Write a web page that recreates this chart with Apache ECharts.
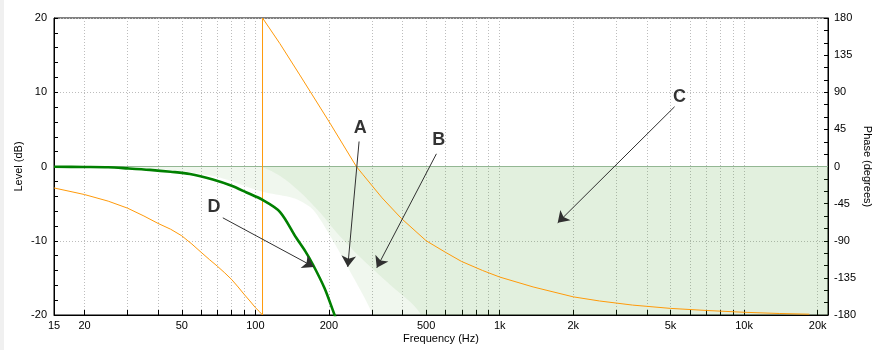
<!DOCTYPE html>
<html><head><meta charset="utf-8">
<script src="https://cdn.jsdelivr.net/npm/echarts@6/dist/echarts.min.js"></script>
<style>html,body{margin:0;padding:0;background:#fff}#c{width:877px;height:350px}</style>
</head><body><div id="c"></div>
<script>
// ---- data ----
const freqLabels = [15, 20, 50, 100, 200, 500, 1000, 2000, 5000, 10000, 20000];
const gridFreqs = [20, 30, 40, 50, 60, 70, 80, 90, 100, 200, 300, 400, 500, 600, 700, 800, 900,
  1000, 2000, 3000, 4000, 5000, 6000, 7000, 8000, 9000, 10000, 20000];
const freqMin = 15, freqMax = 22050;
// green response D (dB)
const levelD = [[15, -0.03], [20, -0.06], [25, -0.1], [30, -0.25], [37, -0.45], [45, -0.7], [54, -1.0],
  [67, -1.75], [80, -2.6], [92, -3.5], [107, -4.5], [126, -6.1], [147, -9.6], [160, -11.4], [172, -13.2],
  [192, -16.4], [211, -20], [220, -21.5]];
// phase (degrees), wraps at ~107 Hz
const phase = [[15, -26], [20, -34], [25, -42], [30, -50.5], [35, -60], [40, -69], [45, -76], [50, -84],
  [55, -94], [60, -104], [65, -113], [70, -121], [75, -129], [80, -137], [85, -146], [90, -155], [95, -163],
  [100, -171], [104, -176], [107, -180], [107, 180], [126, 149], [152, 111], [202, 52.6], [259, 0], [276, -10],
  [330, -38], [396, -63], [500, -90], [600, -104], [697, -115], [850, -126], [1000, -134], [1370, -146],
  [2000, -158], [2560, -163], [3500, -168], [5000, -172], [7000, -174.5], [10000, -176.7], [14000, -178.2],
  [18500, -179]];
// shaded region boundaries (dB), filled up to 0 dB
const fillA = [[15, 0], [23, -0.1], [37, -0.3], [49, -0.6], [72, -1.5], [107, -3.4], [138, -4.1], [152, -4.6],
  [172, -5.8], [202, -9.3], [243, -14], [300, -19.7], [340, -25], [22050, -25]];
const fillB = [[15, 0], [100, 0], [107, -0.1], [126, -1.25], [152, -3.4], [184, -6.2], [215, -8.9],
  [268, -12.2], [355, -15.9], [471, -19.7], [530, -25], [22050, -25]];
const zeroLine = [[15, 0], [22050, 0]];
// annotations: label text anchor, arrow start, arrow tip ([Hz, dB])
const annLabels = ['A', 'B', 'C', 'D'];
const annText = [[268.8, 5.15], [563, 3.6], [5445, 9.4], [67.7, -5.43]];
const annFrom = [[265.8, 3.37], [550.8, 1.71], [5196, 8.05], [73.6, -6.91]];
const annTo = [[238.9, -13.52], [314, -13.65], [1727, -7.59], [173.5, -13.52]];

// ---- chart ----
const lx = f => Math.log10(f);
const toXY = arr => arr.map(p => [lx(p[0]), p[1]]);
const FONT = '"Liberation Sans", Arial, sans-serif';
const fmt = v => { const f = Math.round(Math.pow(10, v)); return f >= 1000 ? (f / 1000) + 'k' : String(f); };
const chart = echarts.init(document.getElementById('c'), null, { renderer: 'canvas' });
const fillStyle = 'rgba(60,150,40,0.11)';
const option = {
  animation: false,
  graphic: [{ type: 'rect', left: 0, top: 0, shape: { width: 4, height: 350 }, style: { fill: '#f0f0f0' }, silent: true }],
  grid: { left: 54, right: 49, top: 18, bottom: 35, show: true, borderColor: '#000', borderWidth: 1,
    backgroundColor: 'transparent', containLabel: false, outerBoundsMode: 'none' },
  xAxis: {
    type: 'value', min: lx(freqMin), max: lx(freqMax),
    name: 'Frequency (Hz)', nameLocation: 'middle', nameGap: 18, nameMoveOverlap: false,
    nameTextStyle: { color: '#000', fontFamily: FONT, fontSize: 11 },
    axisLine: { onZero: false, lineStyle: { color: '#000', width: 1 } },
    axisTick: { inside: true, length: 5, customValues: gridFreqs.map(lx), lineStyle: { color: '#000' } },
    axisLabel: { customValues: freqLabels.map(lx), formatter: fmt, color: '#000', fontFamily: FONT, fontSize: 11, margin: 5 },
    splitLine: { show: true, lineStyle: { color: '#bdbdbd', type: [1, 2] } }
  },
  yAxis: [{
    type: 'value', min: -20, max: 20, interval: 10,
    name: 'Level (dB)', nameLocation: 'middle', nameRotate: 90, nameGap: 30, nameMoveOverlap: false,
    nameTextStyle: { color: '#000', fontFamily: FONT, fontSize: 11 },
    axisLine: { show: true, onZero: false, lineStyle: { color: '#000' } },
    axisTick: { show: true, inside: true, length: 4, lineStyle: { color: '#000' } },
    minorTick: { show: true, splitNumber: 5, length: 4, lineStyle: { color: '#000' } },
    axisLabel: { color: '#000', fontFamily: FONT, fontSize: 11, margin: 7 },
    splitLine: { show: true, lineStyle: { color: '#bdbdbd', type: [1, 2] } }
  }, {
    type: 'value', min: -180, max: 180, interval: 45, position: 'right',
    name: 'Phase (degrees)', nameLocation: 'middle', nameRotate: -90, nameGap: 34, nameMoveOverlap: false,
    nameTextStyle: { color: '#000', fontFamily: FONT, fontSize: 11 },
    axisLine: { show: true, onZero: false, lineStyle: { color: '#000' } },
    axisTick: { show: true, inside: true, length: 4, lineStyle: { color: '#000' } },
    minorTick: { show: true, splitNumber: 3, length: 4, lineStyle: { color: '#000' } },
    axisLabel: { color: '#000', fontFamily: FONT, fontSize: 11, margin: 6 },
    splitLine: { show: false }
  }],
  series: [
    { type: 'line', data: toXY(fillA), yAxisIndex: 0, symbol: 'none', silent: true, z: 1, smooth: 0.3,
      lineStyle: { width: 0, opacity: 0 }, areaStyle: { color: fillStyle, origin: 0 } },
    { type: 'line', data: toXY(fillB), yAxisIndex: 0, symbol: 'none', silent: true, z: 1, smooth: 0.3,
      lineStyle: { width: 0, opacity: 0 }, areaStyle: { color: fillStyle, origin: 0 } },
    { type: 'line', data: toXY(zeroLine), yAxisIndex: 0, symbol: 'none', silent: true, z: 2,
      lineStyle: { width: 1, color: '#93b793' } },
    { type: 'line', data: toXY(phase), yAxisIndex: 1, symbol: 'none', silent: true, z: 3,
      lineStyle: { width: 1, color: '#ff9a0a' } },
    { type: 'line', data: toXY(levelD), yAxisIndex: 0, symbol: 'none', silent: true, z: 4, smooth: 0.3,
      lineStyle: { width: 2.6, color: '#008000' } },
    { type: 'line', data: [], yAxisIndex: 0, silent: true, z: 5,
      markLine: {
        silent: true, animation: false, symbol: ['none', 'arrow'], symbolSize: 11,
        label: { show: false },
        lineStyle: { color: '#303030', width: 1, type: 'solid' },
        data: annFrom.map((p, i) => [{ coord: [lx(p[0]), p[1]] }, { coord: [lx(annTo[i][0]), annTo[i][1]] }])
      } },
    { type: 'scatter', yAxisIndex: 0, silent: true, z: 6, symbolSize: 1, itemStyle: { color: 'rgba(0,0,0,0)' },
      data: annText.map((p, i) => [lx(p[0]), p[1], annLabels[i]]),
      label: { show: true, position: 'inside', formatter: p => p.value[2], color: '#000',
        fontFamily: FONT, fontWeight: 'bold', fontSize: 18 } }
  ]
};
chart.setOption(option);
</script></body></html>
